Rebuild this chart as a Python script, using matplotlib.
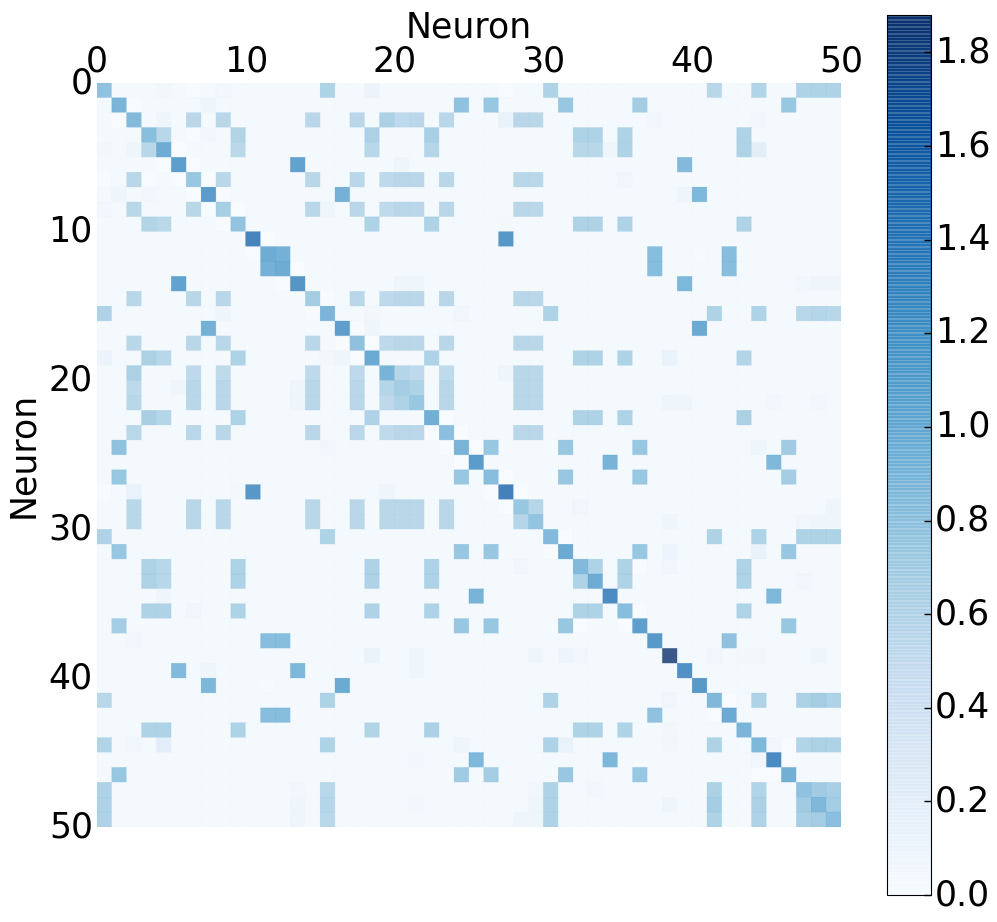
import matplotlib
matplotlib.use('Agg')
import matplotlib.pyplot as plt
import numpy as np

plt.rcParams['ytick.alignment'] = 'center'

n_neurons = 50
tick_labels = [0, 10, 20, 30, 40, 50]
cbar_ticks = [0.0, 0.2, 0.4, 0.6, 0.8, 1.0, 1.2, 1.4, 1.6, 1.8]

# diagonal
diagonal = [0.90, 1.03, 0.98, 0.94, 1.13, 1.26, 0.85, 1.28, 0.77, 0.88,
            1.49, 1.13, 1.13, 1.33, 0.78, 1.03, 1.26, 0.90, 1.15, 1.05,
            0.78, 0.85, 1.10, 0.92, 1.05, 1.28, 0.95, 1.52, 0.85, 0.87,
            0.98, 1.15, 0.98, 1.12, 1.42, 0.95, 1.25, 1.30, 1.88, 1.37,
            1.30, 1.00, 1.15, 1.03, 1.02, 1.43, 1.10, 0.90, 1.00, 0.92]

# neurons that light up together, with the level of their off-diagonal cells
group_a = [0, 15, 30, 41, 44, 47, 48, 49]
group_b = [1, 24, 26, 31, 36, 46]
group_c = [2, 6, 8, 14, 17, 19, 20, 21, 23, 28, 29]
group_d = [3, 4, 9, 18, 22, 32, 33, 35, 43]
group_e = [5, 13, 39]
group_f = [7, 16, 40]
group_g = [10, 27]
group_h = [11, 12, 37, 42]
group_i = [25, 34, 45]
groups = [group_a, group_b, group_c, group_d, group_e, group_f, group_g, group_h, group_i]
levels = [0.72, 0.85, 0.65, 0.72, 1.12, 1.08, 1.32, 0.95, 1.05]

# cells that differ from their group level
strong_pairs = [(11, 12, 1.08), (37, 42, 0.90), (47, 48, 0.80), (47, 49, 0.75), (48, 49, 0.78),
                (3, 4, 0.66), (19, 20, 0.68), (19, 21, 0.62), (20, 21, 0.72), (5, 39, 0.98),
                (5, 13, 1.22), (7, 40, 1.02), (13, 39, 1.02), (16, 40, 1.15), (28, 29, 0.68),
                (25, 34, 1.05), (25, 45, 1.00), (34, 45, 1.02), (2, 19, 0.74), (2, 20, 0.62),
                (3, 18, 0.74), (3, 22, 0.76), (3, 9, 0.70), (4, 9, 0.64), (4, 22, 0.68),
                (4, 32, 0.66), (4, 33, 0.66), (4, 18, 0.66), (6, 19, 0.62), (8, 19, 0.60),
                (14, 19, 0.62), (17, 19, 0.62), (18, 43, 0.70), (22, 43, 0.74), (19, 23, 0.60),
                (0, 41, 0.66), (0, 44, 0.70), (15, 47, 0.66), (15, 48, 0.68), (15, 49, 0.66),
                (44, 47, 0.70), (44, 48, 0.74), (44, 49, 0.72), (41, 47, 0.74), (41, 48, 0.78),
                (41, 49, 0.72), (1, 24, 0.90), (1, 36, 0.78), (24, 46, 0.80), (26, 46, 0.78)]

# pale background cells
background = 0.05
faint_pairs = [(0, 18, 0.14), (1, 7, 0.11), (2, 4, 0.11), (2, 27, 0.18), (4, 44, 0.26),
               (0, 4, 0.08), (0, 8, 0.09), (5, 20, 0.11), (8, 15, 0.11), (13, 20, 0.11),
               (13, 21, 0.12), (15, 24, 0.10), (16, 18, 0.11), (6, 35, 0.10), (7, 39, 0.12),
               (2, 37, 0.10), (13, 47, 0.09), (13, 48, 0.11), (13, 49, 0.11), (18, 38, 0.17),
               (21, 38, 0.12), (21, 39, 0.11), (29, 38, 0.12), (29, 47, 0.10), (29, 48, 0.11),
               (29, 49, 0.12), (31, 44, 0.18), (19, 27, 0.12), (28, 32, 0.10), (31, 38, 0.13),
               (24, 44, 0.12), (32, 38, 0.10), (34, 4, 0.11), (37, 2, 0.09), (44, 2, 0.09),
               (38, 41, 0.14), (38, 48, 0.11), (38, 44, 0.08), (41, 38, 0.10), (44, 45, 0.10),
               (33, 47, 0.09), (38, 43, 0.08), (49, 28, 0.11), (49, 29, 0.11), (48, 21, 0.09),
               (45, 21, 0.09), (18, 15, 0.08), (9, 27, 0.06), (11, 40, 0.03), (3, 7, 0.09)]
white_pairs = [(0, 6, 0.01), (0, 27, 0.01), (1, 2, 0.02), (3, 6, 0.01), (4, 5, 0.01),
               (5, 6, 0.01), (6, 7, 0.02), (7, 8, 0.01), (8, 9, 0.02), (10, 11, 0.01),
               (12, 13, 0.02), (14, 15, 0.02), (16, 17, 0.02), (17, 18, 0.02), (22, 23, 0.01),
               (23, 24, 0.02), (24, 25, 0.01), (26, 27, 0.01), (27, 28, 0.01), (30, 31, 0.02),
               (32, 36, 0.01), (35, 36, 0.01), (44, 46, 0.01), (41, 42, 0.02), (45, 46, 0.01)]

matrix = np.full((n_neurons, n_neurons), background)
for members, level in zip(groups, levels):
    for i in members:
        for j in members:
            matrix[i, j] = level
for i, j, v in strong_pairs + faint_pairs + white_pairs:
    matrix[i, j] = v
    matrix[j, i] = v
for i, v in enumerate(diagonal):
    matrix[i, i] = v

fig = plt.figure(figsize=(9.97, 9.22), dpi=100)
ax = fig.add_axes([97 / 997, 1 - 827 / 922, 744 / 997, 744 / 922])
mesh = ax.pcolor(matrix, cmap='Blues', alpha=0.8, vmin=0, vmax=max(diagonal),
                 edgecolors='face', linewidth=0.3)
ax.set_xlim(0, n_neurons)
ax.set_ylim(n_neurons, 0)
ax.set_aspect('equal')
ax.xaxis.tick_top()
ax.xaxis.set_label_position('top')
ax.set_xticks(tick_labels)
ax.set_yticks(tick_labels)
ax.tick_params(length=0, labelsize=25, pad=3)
ax.set_xlabel('Neuron', fontsize=25, labelpad=5)
ax.set_ylabel('Neuron', fontsize=25, labelpad=6)
for spine in ax.spines.values():
    spine.set_visible(False)

cax = fig.add_axes([887 / 997, 1 - 895 / 922, 44 / 997, 880 / 922])
cb = fig.colorbar(mesh, cax=cax)
cb.solids.set_edgecolor('face')
cb.solids.set_linewidth(0.25)
cb.set_ticks(cbar_ticks)
cb.ax.tick_params(direction='in', length=5, width=1, labelsize=25, pad=3)

plt.savefig('out.png', dpi=100)
